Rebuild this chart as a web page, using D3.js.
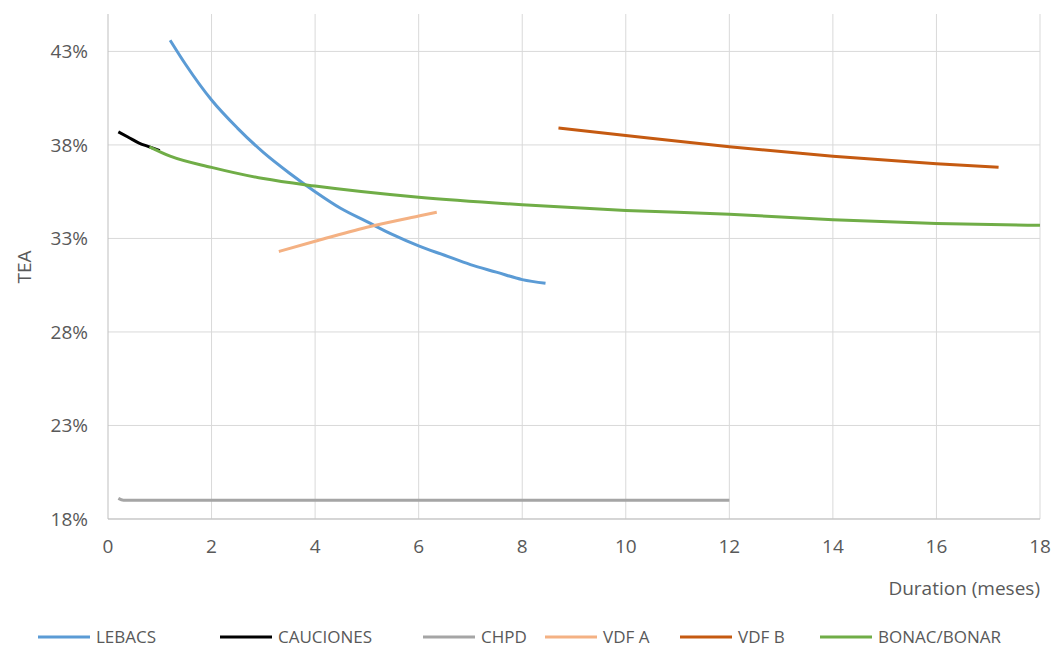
<!DOCTYPE html>
<html>
<head>
<meta charset="utf-8">
<script src="https://d3js.org/d3.v7.min.js"></script>
<style>body{margin:0;background:#fff;} text{font-family:"Open Sans",sans-serif;fill:#595959;}</style>
</head>
<body>
<svg width="1054" height="651"></svg>
<script>
var lebacs = [[1.2,43.6],[1.5,42.3],[2,40.4],[2.5,38.9],[3,37.6],[3.5,36.5],[4,35.5],[4.5,34.6],[5,33.9],[5.5,33.2],[6,32.6],[6.5,32.1],[7,31.6],[7.5,31.2],[8,30.8],[8.45,30.6]];
var cauciones = [[0.2,38.7],[0.4,38.4],[0.6,38.1],[0.8,37.9],[1.0,37.7]];
var chpd = [[0.2,19.1],[0.3,19.0],[12,19.0]];
var vdfA = [[3.3,32.3],[4,32.85],[5,33.6],[6,34.2],[6.35,34.4]];
var vdfB = [[8.7,38.9],[10,38.5],[12,37.9],[14,37.4],[16,37.0],[17.2,36.8]];
var bonac = [[0.8,37.9],[1.2,37.4],[2,36.8],[3,36.2],[4,35.8],[6,35.2],[8,34.8],[10,34.5],[12,34.3],[14,34.0],[16,33.8],[18,33.7]];
var seriesNames = ["LEBACS","CAUCIONES","CHPD","VDF A","VDF B","BONAC/BONAR"];
var seriesData = [lebacs,cauciones,chpd,vdfA,vdfB,bonac];
var colors = ["#5B9BD5","#000000","#A5A5A5","#F4B183","#C55A11","#70AD47"];
var yTicks = [18,23,28,33,38,43];
var xTicks = [0,2,4,6,8,10,12,14,16,18];

var svg = d3.select("svg");
var x = d3.scaleLinear().domain([0,18]).range([108,1040]);
var y = d3.scaleLinear().domain([18,45]).range([519,14]);

var g = svg.append("g");
g.selectAll(".hg").data(yTicks).enter().append("line")
  .attr("x1",108).attr("x2",1040).attr("y1",d=>y(d)).attr("y2",d=>y(d))
  .attr("stroke","#D9D9D9");
g.selectAll(".vg").data(xTicks.slice(1)).enter().append("line")
  .attr("y1",14).attr("y2",519).attr("x1",d=>x(d)).attr("x2",d=>x(d))
  .attr("stroke","#D9D9D9");
g.append("line").attr("x1",108).attr("x2",108).attr("y1",14).attr("y2",519).attr("stroke","#BFBFBF");
g.append("line").attr("x1",108).attr("x2",1040).attr("y1",519).attr("y2",519).attr("stroke","#BFBFBF");

g.selectAll(".yl").data(yTicks).enter().append("text")
  .attr("x",88).attr("y",d=>y(d)+7).attr("text-anchor","end").style("font-size","19px")
  .text(d=>d+"%");
g.selectAll(".xl").data(xTicks).enter().append("text")
  .attr("x",d=>x(d)).attr("y",553).attr("text-anchor","middle").style("font-size","19px")
  .text(d=>d);

svg.append("text").attr("transform","translate(31,267)rotate(-90)").attr("text-anchor","middle")
  .style("font-size","19px").text("TEA");
svg.append("text").attr("x",1040).attr("y",595).attr("text-anchor","end")
  .style("font-size","19px").text("Duration (meses)");

var line = d3.line().x(d=>x(d[0])).y(d=>y(d[1])).curve(d3.curveMonotoneX);
seriesData.forEach(function(s,i){
  svg.append("path").datum(s).attr("d",line).attr("fill","none")
    .attr("stroke",colors[i]).attr("stroke-width",3);
});

var legX = [38,220,423,545,680,820];
var leg = svg.selectAll(".leg").data(seriesNames).enter().append("g")
  .attr("transform",(d,i)=>"translate("+legX[i]+",637)");
leg.append("line").attr("x1",0).attr("x2",52).attr("stroke",(d,i)=>colors[i]).attr("stroke-width",3);
leg.append("text").attr("x",58).attr("y",6).style("font-size","17px").text(d=>d);
</script>
</body>
</html>
